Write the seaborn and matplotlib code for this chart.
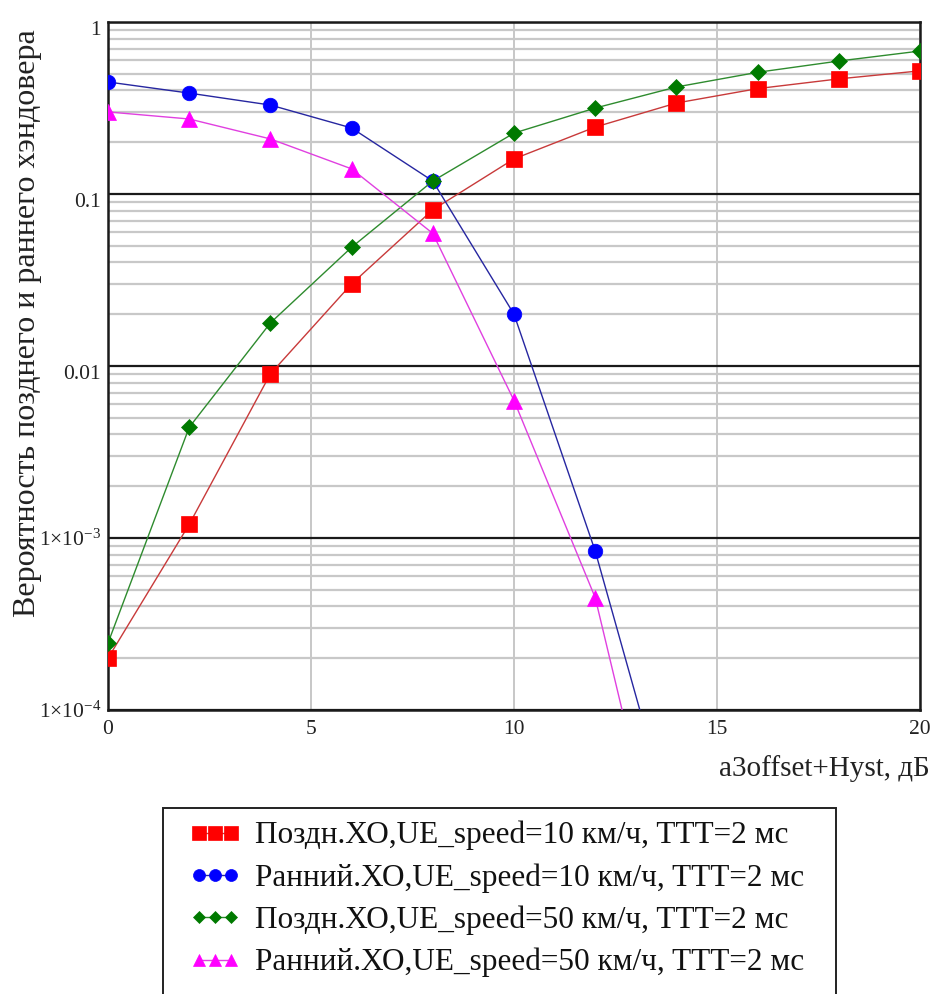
import numpy as np
import pandas as pd
import matplotlib
matplotlib.use("Agg")
import matplotlib.pyplot as plt
import matplotlib.ticker as mticker
import matplotlib.transforms as mtransforms
from matplotlib.patches import Rectangle
import seaborn as sns

# ---------------- data ----------------
x_vals = [0, 2, 4, 6, 8, 10, 12, 14, 16, 18, 20]
x_early = [0, 2, 4, 6, 8, 10, 12, 14]

late_10 = [2.0e-4, 1.2e-3, 9.0e-3, 0.030, 0.081, 0.16, 0.245, 0.338, 0.41, 0.467, 0.52]
early_10 = [0.448, 0.386, 0.329, 0.242, 0.119, 0.020, 8.4e-4, 1.75e-5]
late_50 = [2.45e-4, 4.4e-3, 0.0178, 0.049, 0.119, 0.226, 0.316, 0.419, 0.51, 0.593, 0.678]
early_50 = [0.30, 0.273, 0.209, 0.14, 0.059, 6.3e-3, 4.5e-4, 4.8e-6]

labels = [
    "Поздн.ХО,UE_speed=10 км/ч, TTT=2 мс",
    "Ранний.ХО,UE_speed=10 км/ч, TTT=2 мс",
    "Поздн.ХО,UE_speed=50 км/ч, TTT=2 мс",
    "Ранний.ХО,UE_speed=50 км/ч, TTT=2 мс",
]

y_ticks = [1e-4, 1e-3, 1e-2, 1e-1, 1]
y_ticklabels = ["1×$10^{-4}$", "1×$10^{-3}$", "0.01", "0.1", "1"]
x_ticks = [0, 5, 10, 15, 20]
x_ticklabels = ["0", "5", "10", "15", "20"]

xlabel = "a3offset+Hyst, дБ"
ylabel = "Вероятность позднего и раннего хэндовера"

# ---------------- style ----------------
sns.set_theme(style="white")
plt.rcParams["font.family"] = ["Liberation Serif", "DejaVu Serif"]
plt.rcParams["mathtext.fontset"] = "custom"
plt.rcParams["mathtext.rm"] = "Liberation Serif"
plt.rcParams["mathtext.it"] = "Liberation Serif:italic"
plt.rcParams["mathtext.default"] = "rm"

W, H = 938, 994
fig = plt.figure(figsize=(W / 100, H / 100), dpi=100)
ax_l, ax_r, ax_t, ax_b = 108, 920, 22, 710
ax = fig.add_axes([ax_l / W, 1 - ax_b / H, (ax_r - ax_l) / W, (ax_b - ax_t) / H])

series = [
    (x_vals, late_10, labels[0], "#c83a3a", "s", "#ff0000", 11.5),
    (x_early, early_10, labels[1], "#2626a0", "o", "#0000ff", 10.5),
    (x_vals, late_50, labels[2], "#2e8b2e", "D", "#007a00", 8.0),
    (x_early, early_50, labels[3], "#e040e0", "^", "#ff00ff", 11.0),
]

for xs, ys, lab, lc, mk, mc, ms in series:
    df = pd.DataFrame({"x": xs, "y": ys})
    sns.lineplot(data=df, x="x", y="y", ax=ax, color=lc, linewidth=1.0,
                 marker=mk, markersize=ms, markerfacecolor=mc,
                 markeredgecolor=mc, markeredgewidth=0.5, label=lab,
                 legend=False, zorder=3)

ax.set_yscale("log")
ax.set_xlim(0, 20)
ax.set_ylim(1e-4, 1)

ax.yaxis.set_major_locator(mticker.FixedLocator(y_ticks))
ax.yaxis.set_major_formatter(mticker.FixedFormatter(y_ticklabels))
ax.yaxis.set_minor_locator(mticker.LogLocator(base=10, subs=np.arange(2, 10), numticks=20))
ax.yaxis.set_minor_formatter(mticker.NullFormatter())
ax.xaxis.set_major_locator(mticker.FixedLocator(x_ticks))
ax.xaxis.set_major_formatter(mticker.FixedFormatter(x_ticklabels))

ax.tick_params(axis="both", which="both", length=0, labelsize=15.5, colors="#222222")
ax.tick_params(axis="y", pad=5)
ax.tick_params(axis="x", pad=7)

ax.grid(False)
ax.grid(True, which="minor", axis="y", color="#c8c8c8", linewidth=1.6, zorder=0)
ax.grid(True, which="major", axis="y", color="#1a1a1a", linewidth=1.6, zorder=1)
ax.grid(True, which="major", axis="x", color="#bdbdbd", linewidth=1.2, zorder=0)
ax.set_axisbelow(True)

for sp in ax.spines.values():
    sp.set_color("#1a1a1a")
    sp.set_linewidth(1.8)
    sp.set_visible(True)

# shift plain y labels slightly down (as in reference)
offset = mtransforms.ScaledTranslation(0, -6 / 100, fig.dpi_scale_trans)
for lbl, txt in zip(ax.get_yticklabels(), y_ticklabels):
    if "$" not in txt:
        lbl.set_transform(lbl.get_transform() + offset)

ax.set_xlabel(xlabel, fontsize=21, ha="right", va="center", color="#222222")
ax.xaxis.set_label_coords((930 - ax_l) / (ax_r - ax_l), -(769 - ax_b) / (ax_b - ax_t))
ax.set_ylabel(ylabel, fontsize=23, va="center", color="#222222")
ax.yaxis.set_label_coords(-(ax_l - 28) / (ax_r - ax_l), (ax_b - 323) / (ax_b - ax_t))

# legend
handles, labs = ax.get_legend_handles_labels()
leg = fig.legend(handles, labs, loc="upper left",
                 bbox_to_anchor=(189.5 / W, 1 - 821 / H),
                 bbox_transform=fig.transFigure, frameon=False,
                 fontsize=22.5, numpoints=3, markerscale=0.82,
                 handlelength=1.63, handletextpad=0.45, labelspacing=0.41,
                 borderpad=0, borderaxespad=0)
for t in leg.get_texts():
    t.set_color("#111111")

# legend box (its bottom edge lies below the figure, as in the reference)
fig.patches.append(Rectangle((163 / W, -0.02), (836 - 163) / W, 1 - 808 / H + 0.02,
                             transform=fig.transFigure, fill=False,
                             edgecolor="#222222", linewidth=1.4))

fig.savefig("out.png", dpi=100)
